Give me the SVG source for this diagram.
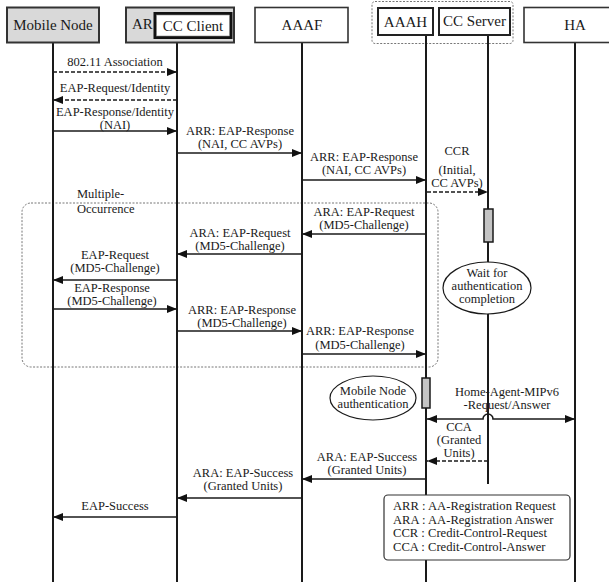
<svg xmlns="http://www.w3.org/2000/svg" width="609" height="582" viewBox="0 0 609 582" font-family="'Liberation Serif', 'DejaVu Serif', serif">
  <defs>
    <marker id="arrow" markerUnits="userSpaceOnUse" markerWidth="11" markerHeight="9" refX="10" refY="4" orient="auto-start-reverse">
      <path d="M0,0 L10,4 L0,8 z" fill="#111"/>
    </marker>
    <style>
      text { font-family: "Liberation Serif", "DejaVu Serif", serif; font-size: 12.5px; fill: #1a1a1a; }
      .hdr { font-size: 15px; text-anchor: middle; }
      .c { text-anchor: middle; }
      .life { stroke: #1a1a1a; stroke-width: 2; fill: none; }
      .msg { stroke: #1a1a1a; stroke-width: 1.6; fill: none; marker-end: url(#arrow); }
      .dash { stroke-dasharray: 4 2; }
      .both { marker-start: url(#arrow); }
      .frame { fill: none; stroke: #777; stroke-width: 1; stroke-dasharray: 2 1.5; }
      .bar { fill: #c4c4c4; stroke: #1a1a1a; stroke-width: 1.5; }
      .note { fill: #fff; stroke: #1a1a1a; stroke-width: 1.2; }
    </style>
  </defs>

  <rect width="609" height="582" fill="#fff"/>

  <!-- grouping frames -->
  <rect class="frame" x="372" y="1.5" width="141" height="42" rx="3"/>
  <rect class="frame" x="22" y="203" width="416" height="164" rx="9"/>

  <!-- lifelines -->
  <g id="lifelines">
    <line class="life" x1="53" y1="43" x2="53" y2="582"/>
    <line class="life" x1="177" y1="43" x2="177" y2="582"/>
    <line class="life" x1="302" y1="43" x2="302" y2="582"/>
    <line class="life" x1="426" y1="35" x2="426" y2="582"/>
    <line class="life" x1="488" y1="35" x2="488" y2="484"/>
    <line class="life" x1="575" y1="43" x2="575" y2="582"/>
  </g>

  <!-- participants -->
  <g id="mobile-node">
    <rect x="7" y="7.5" width="92" height="35" fill="#d9d9d9" stroke="#333" stroke-width="2"/>
    <text class="hdr" x="53" y="30">Mobile Node</text>
  </g>
  <g id="ar">
    <rect x="126" y="7.5" width="108" height="35" fill="#d9d9d9" stroke="#333" stroke-width="2"/>
    <text x="132" y="29" style="font-size:15px">AR</text>
  </g>
  <g id="cc-client">
    <rect x="155" y="13.5" width="76" height="24" fill="#fff" stroke="#111" stroke-width="3"/>
    <rect x="156.5" y="15" width="73" height="21" fill="none" stroke="#888" stroke-width="0.6"/>
    <text class="hdr" x="193" y="31">CC Client</text>
  </g>
  <g id="aaaf">
    <rect x="255" y="7.5" width="93" height="35" fill="#fff" stroke="#333" stroke-width="1.6"/>
    <text class="hdr" x="302" y="30">AAAF</text>
  </g>
  <g id="aaah">
    <rect x="378" y="8" width="55" height="27" fill="#fff" stroke="#222" stroke-width="2"/>
    <text class="hdr" x="405.5" y="27">AAAH</text>
  </g>
  <g id="cc-server">
    <rect x="439" y="8" width="71" height="27" fill="#fff" stroke="#222" stroke-width="2"/>
    <text class="hdr" x="474.5" y="26">CC Server</text>
  </g>
  <g id="ha">
    <rect x="524" y="7.5" width="90" height="35" fill="#fff" stroke="#333" stroke-width="1.6"/>
    <text class="hdr" x="575" y="30">HA</text>
  </g>

  <!-- activation bars and state notes -->
  <g id="cc-server-activation">
    <rect class="bar" x="484" y="209" width="9" height="33"/>
  </g>
  <g id="wait-state">
    <ellipse class="note" cx="487" cy="288" rx="44" ry="26"/>
    <text class="c" x="487" y="277">Wait for</text>
    <text class="c" x="487" y="290">authentication</text>
    <text class="c" x="487" y="303">completion</text>
  </g>
  <g id="aaah-activation">
    <rect class="bar" x="422" y="378" width="8" height="30"/>
  </g>
  <g id="mn-auth-state">
    <ellipse class="note" cx="373" cy="398" rx="43" ry="22"/>
    <text class="c" x="373" y="395">Mobile Node</text>
    <text class="c" x="373" y="408">authentication</text>
  </g>

  <!-- messages -->
  <g id="connectors">
    <path class="msg dash" d="M53,72 H177"/>
    <path class="msg dash" d="M177,100 H53"/>
    <path class="msg" d="M53,131 H177"/>
    <path class="msg" d="M177,153 H302"/>
    <path class="msg" d="M302,180 H426"/>
    <path class="msg dash" d="M427,192 H488"/>
    <path class="msg" d="M426,234 H302"/>
    <path class="msg" d="M302,254 H177"/>
    <path class="msg" d="M177,280 H53"/>
    <path class="msg" d="M53,309 H177"/>
    <path class="msg" d="M177,331 H302"/>
    <path class="msg" d="M302,354 H426"/>
    <path class="msg both" d="M427,419 H483 A5,5 0 0 1 493,419 H575"/>
    <path class="msg dash" d="M488,461 H427"/>
    <path class="msg" d="M426,479 H302"/>
    <path class="msg" d="M302,498 H177"/>
    <path class="msg" d="M177,517 H53"/>
  </g>

  <!-- message labels -->
  <g id="labels">
    <text class="c" x="115" y="66">802.11 Association</text>
    <text class="c" x="115" y="92">EAP-Request/Identity</text>
    <text class="c" x="115" y="116">EAP-Response/Identity</text>
    <text class="c" x="115" y="129">(NAI)</text>
    <text class="c" x="240" y="135">ARR: EAP-Response</text>
    <text class="c" x="240" y="148">(NAI, CC AVPs)</text>
    <text class="c" x="364" y="161">ARR: EAP-Response</text>
    <text class="c" x="364" y="174">(NAI, CC AVPs)</text>
    <text class="c" x="457" y="155">CCR</text>
    <text class="c" x="457" y="174">(Initial,</text>
    <text class="c" x="457" y="187">CC AVPs)</text>
    <text x="77" y="198">Multiple-</text>
    <text x="77" y="213">Occurrence</text>
    <text class="c" x="364" y="216">ARA: EAP-Request</text>
    <text class="c" x="364" y="229">(MD5-Challenge)</text>
    <text class="c" x="240" y="237">ARA: EAP-Request</text>
    <text class="c" x="240" y="250">(MD5-Challenge)</text>
    <text class="c" x="115" y="259">EAP-Request</text>
    <text class="c" x="115" y="272">(MD5-Challenge)</text>
    <text class="c" x="112" y="292">EAP-Response</text>
    <text class="c" x="112" y="305">(MD5-Challenge)</text>
    <text class="c" x="242" y="314">ARR: EAP-Response</text>
    <text class="c" x="242" y="327">(MD5-Challenge)</text>
    <text class="c" x="360" y="335">ARR: EAP-Response</text>
    <text class="c" x="360" y="349">(MD5-Challenge)</text>
    <text class="c" x="507" y="396">Home-Agent-MIPv6</text>
    <text class="c" x="507" y="409">-Request/Answer</text>
    <text class="c" x="459" y="431">CCA</text>
    <text class="c" x="459" y="444">(Granted</text>
    <text class="c" x="459" y="457">Units)</text>
    <text class="c" x="367" y="461">ARA: EAP-Success</text>
    <text class="c" x="367" y="474">(Granted Units)</text>
    <text class="c" x="243" y="477">ARA: EAP-Success</text>
    <text class="c" x="243" y="490">(Granted Units)</text>
    <text class="c" x="115" y="510">EAP-Success</text>
  </g>

  <!-- abbreviations legend -->
  <g id="legend">
    <rect x="384" y="495" width="186" height="65" rx="4" fill="#fff" stroke="#333" stroke-width="1.2"/>
    <text x="393" y="510" style="font-size:12.6px">ARR : AA-Registration Request</text>
    <text x="393" y="523.5" style="font-size:12.6px">ARA : AA-Registration Answer</text>
    <text x="393" y="537" style="font-size:12.6px">CCR : Credit-Control-Request</text>
    <text x="393" y="550.5" style="font-size:12.6px">CCA : Credit-Control-Answer</text>
  </g>
</svg>
